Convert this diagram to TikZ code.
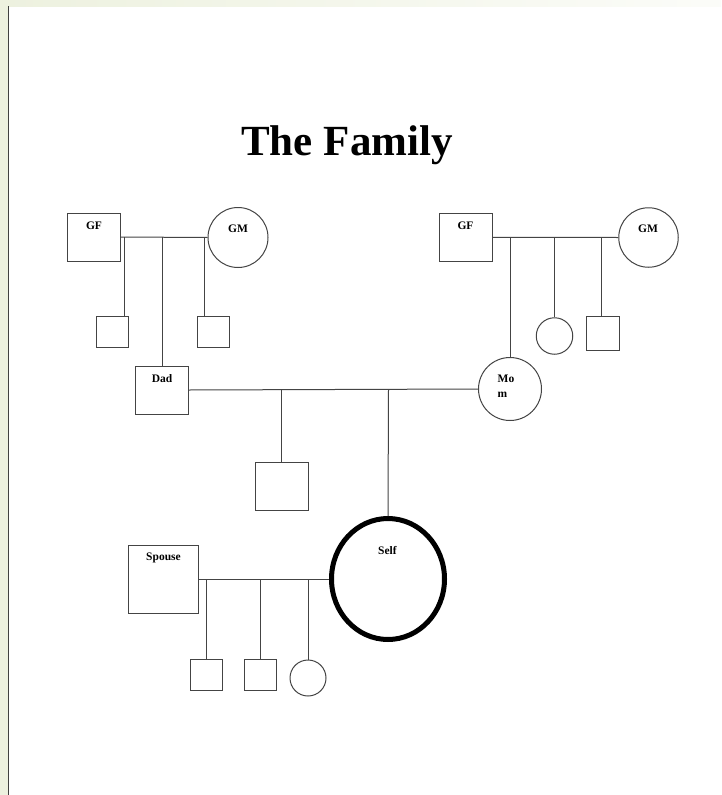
\documentclass[tikz,border=0pt]{standalone}
\usepackage{fontspec}
\setmainfont{Liberation Serif}
\usetikzlibrary{shapes.geometric}
\definecolor{pale}{HTML}{EDF1DF}
\definecolor{ink}{HTML}{444444}
\begin{document}
\begin{tikzpicture}[x=1pt,y=-1pt,
  sq/.style={draw=ink, line width=1pt, rectangle, inner sep=0pt},
  ci/.style={draw=ink, line width=1pt, circle, inner sep=0pt},
  lbl/.style={font=\fontsize{11.5}{12}\selectfont\bfseries, inner sep=0pt},
  link/.style={draw=ink, line width=1pt}]
\useasboundingbox (0,0) rectangle (721,795);
\fill[white] (0,0) rectangle (721,795);
\shade[left color=pale, right color=pale!20] (0,0) rectangle (721,6);
\fill[pale] (0,0) rectangle (8.3,795);
\coordinate (bt) at (8.7,6);
\coordinate (bb) at (8.7,795);
\draw[black!75, line width=1pt] (bt) -- (bb);

\node[font=\fontsize{43}{48}\selectfont\bfseries, inner sep=0pt, anchor=base] (title) at (347,155) {The Family};

% left grandparents
\node[sq, minimum width=53pt, minimum height=48pt] (gf1) at (94,237) {};
\node[lbl] (gf1t) at (94,225.5) {GF};
\node[ci, minimum size=60pt] (gm1) at (238,237.5) {};
\node[lbl] (gm1t) at (238,229) {GM};
\draw[link] (gf1.east) -- (gm1.west);
\node[sq, minimum width=32pt, minimum height=30.5pt] (c11) at (112.5,332) {};
\node[sq, minimum width=32pt, minimum height=30.5pt] (c12) at (213,332) {};
\coordinate (d11) at (124,237);
\coordinate (d12) at (204,237);
\coordinate (d13) at (162,237);
\draw[link] (d11) -- (d11 |- c11.north);
\draw[link] (d12) -- (d12 |- c12.north);

% right grandparents
\node[sq, minimum width=53pt, minimum height=48pt] (gf2) at (465.5,237.3) {};
\node[lbl] (gf2t) at (465.5,225.5) {GF};
\node[ci, minimum size=59.5pt] (gm2) at (648.5,237.5) {};
\node[lbl] (gm2t) at (648,229) {GM};
\draw[link] (gf2.east) -- (gm2.west);
\node[ci, minimum size=36.5pt] (c21) at (554.5,336) {};
\node[sq, minimum width=33pt, minimum height=34pt] (c22) at (603.3,333.7) {};
\coordinate (d21) at (510,237.3);
\coordinate (d22) at (554.5,237.3);
\coordinate (d23) at (601,237.3);
\draw[link] (d22) -- (c21.north);
\draw[link] (d23) -- (d23 |- c22.north);

% parents
\node[sq, minimum width=53pt, minimum height=48pt] (dad) at (162,390) {};
\node[lbl] (dadt) at (162,378.7) {Dad};
\node[ci, minimum size=63pt] (mom) at (510,389) {};
\node[lbl, anchor=west] (momt1) at (497.5,379) {Mo};
\node[lbl, anchor=west] (momt2) at (497.5,394.5) {m};
\draw[link] (d13) -- (d13 |- dad.north);
\draw[link] (d21) -- (mom.north);
\draw[link] (dad.east) -- (mom.west);

% siblings
\node[sq, minimum width=53pt, minimum height=48.5pt] (son) at (281.7,486.3) {};
\coordinate (d31) at (281.7,389.5);
\coordinate (d32) at (388.5,389.5);
\draw[link] (d31) -- (son.north);

% self and spouse
\node[draw=black, line width=5pt, ellipse, inner sep=0pt, minimum width=113pt, minimum height=121pt] (self) at (388,579) {};
\node[lbl] (selft) at (387.5,550.5) {Self};
\draw[link] (d32) -- (self.north);
\node[sq, minimum width=70.5pt, minimum height=68pt] (spouse) at (163.6,579) {};
\node[lbl] (spouset) at (163.5,557.7) {Spouse};
\draw[link] (spouse.east) -- (self.west);

% children
\node[sq, minimum width=32pt, minimum height=31pt] (k1) at (206.7,674.5) {};
\node[sq, minimum width=32pt, minimum height=31pt] (k2) at (260.7,674.5) {};
\node[ci, minimum size=36pt] (k3) at (308,678) {};
\coordinate (d41) at (206.7,579);
\coordinate (d42) at (260.7,579);
\coordinate (d43) at (308,579);
\draw[link] (d41) -- (k1.north);
\draw[link] (d42) -- (k2.north);
\draw[link] (d43) -- (k3.north);
\end{tikzpicture}
\end{document}
